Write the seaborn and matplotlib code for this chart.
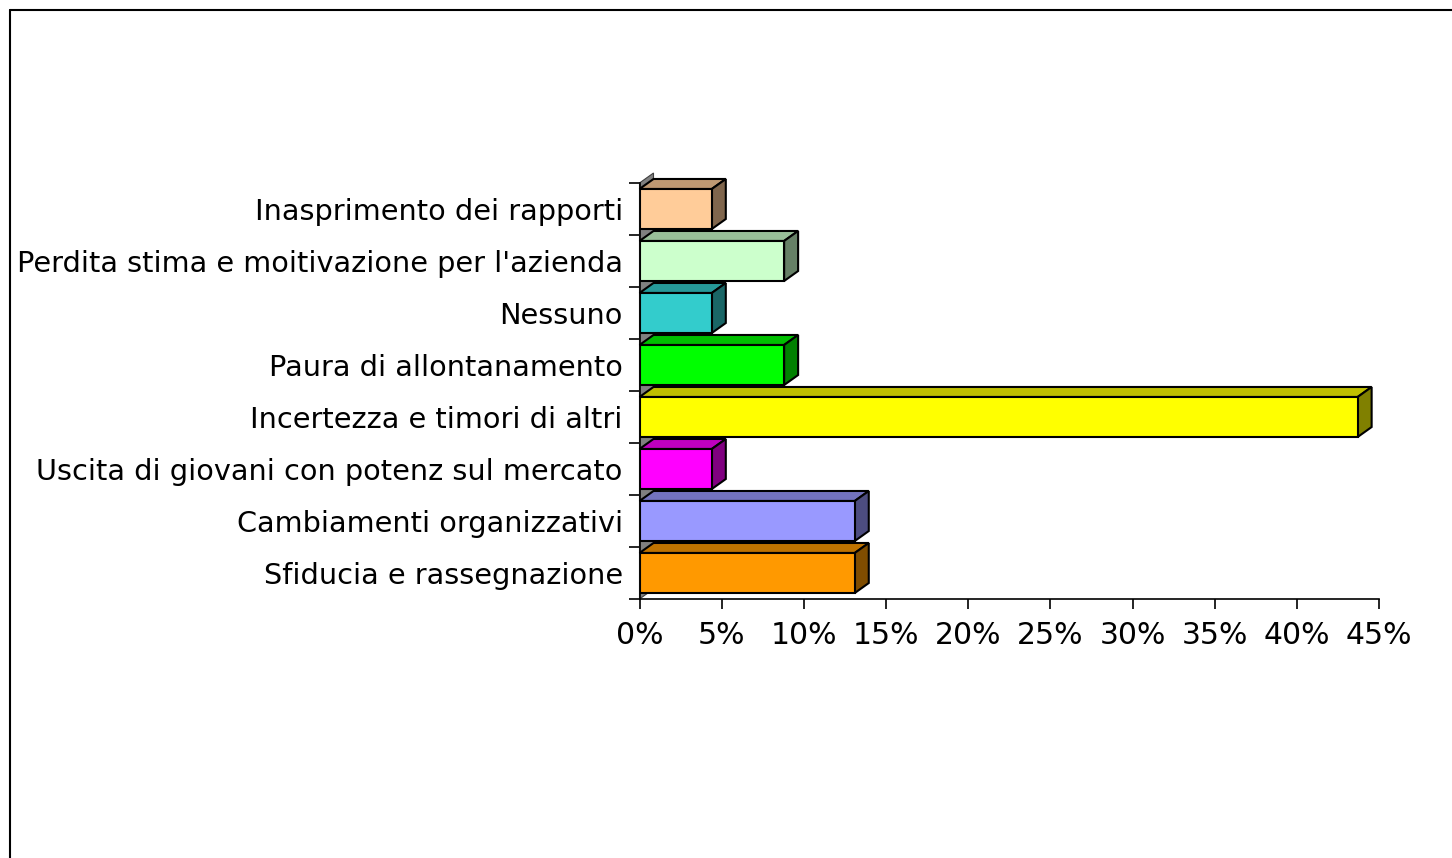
import numpy as np
import matplotlib
matplotlib.use("Agg")
import matplotlib.pyplot as plt
from matplotlib.patches import Polygon
from matplotlib.lines import Line2D
import seaborn as sns

# categories top -> bottom
categories = [
    "Inasprimento dei rapporti",
    "Perdita stima e moitivazione per l'azienda",
    "Nessuno",
    "Paura di allontanamento",
    "Incertezza e timori di altri",
    "Uscita di giovani con potenz sul mercato",
    "Cambiamenti organizzativi",
    "Sfiducia e rassegnazione",
]
values = [4.4, 8.8, 4.4, 8.8, 43.7, 4.4, 13.1, 13.1]
colors = ["#FFCC99", "#CCFFCC", "#33CCCC", "#00FF00",
          "#FFFF00", "#FF00FF", "#9999FF", "#FF9900"]
xticks = [0, 5, 10, 15, 20, 25, 30, 35, 40, 45]

W, H = 1452, 858
DEPTH_X, DEPTH_Y = 14, 10  # 3d offset in pixels

sns.set_theme(style="white")
plt.rcParams["font.family"] = ["DejaVu Sans"]
plt.rcParams["text.color"] = "black"
plt.rcParams["xtick.color"] = "black"
plt.rcParams["ytick.color"] = "black"

fig = plt.figure(figsize=(W / 100, H / 100), dpi=100)
ax = fig.add_axes([639.5 / W, (H - 599) / H, 739.5 / W, 416 / H])

sns.barplot(x=values, y=categories, hue=categories, palette=colors,
            orient="h", width=0.77, legend=False, ax=ax,
            edgecolor="black", linewidth=1.5, saturation=1, zorder=3)

ax.set_xlim(0, 45)
ax.set_ylim(7.5, -0.5)

# pixel -> data conversions
px_x = 45 / 739.5
px_y = 8 / 416
dx = DEPTH_X * px_x
dy = DEPTH_Y * px_y

def shade(c, f):
    r, g, b = matplotlib.colors.to_rgb(c)
    return (r * f, g * f, b * f)

bars = [b for cont in ax.containers for b in cont]
for bar, c in zip(bars, colors):
    x0, y0 = bar.get_x(), bar.get_y()
    w, h = bar.get_width(), bar.get_height()
    top_y = min(y0, y0 + h)
    bot_y = max(y0, y0 + h)
    top = Polygon([(x0, top_y), (x0 + dx, top_y - dy),
                   (x0 + w + dx, top_y - dy), (x0 + w, top_y)],
                  closed=True, facecolor=shade(c, 0.75), edgecolor="black",
                  linewidth=1.5, zorder=2, clip_on=False)
    side = Polygon([(x0 + w, top_y), (x0 + w + dx, top_y - dy),
                    (x0 + w + dx, bot_y - dy), (x0 + w, bot_y)],
                   closed=True, facecolor=shade(c, 0.5), edgecolor="black",
                   linewidth=1.5, zorder=2, clip_on=False)
    ax.add_patch(top)
    ax.add_patch(side)

# grey back wall on the left
wall = Polygon([(0, 7.5), (0, -0.5), (dx, -0.5 - dy), (dx, 7.5 - dy)],
               closed=True, facecolor="#808080", edgecolor="#404040",
               linewidth=0.8, zorder=1, clip_on=False)
ax.add_patch(wall)

for s in ["top", "right"]:
    ax.spines[s].set_visible(False)
for s in ["left", "bottom"]:
    ax.spines[s].set_color("black")
    ax.spines[s].set_linewidth(1.2)
    ax.spines[s].set_zorder(5)

ax.set_xticks(xticks)
ax.set_xticklabels([f"{t}%" for t in xticks])
ax.set_yticks(range(len(categories)))
ax.set_yticks(np.arange(-0.5, 8.0, 1.0), minor=True)
ax.tick_params(axis="x", which="major", length=7, width=1.2,
               direction="out", bottom=True, labelsize=21.5, pad=9)
ax.tick_params(axis="y", which="major", length=0, labelsize=20.7, pad=12)
ax.tick_params(axis="y", which="minor", length=8, width=1.2,
               direction="out", left=True)
ax.set_xlabel("")
ax.set_ylabel("")
ax.patch.set_alpha(0)

# outer frame
fig.add_artist(Line2D([10 / W, 10 / W], [0, 1 - 10 / H], transform=fig.transFigure,
                      color="black", linewidth=1.5))
fig.add_artist(Line2D([10 / W, 1], [1 - 10 / H, 1 - 10 / H], transform=fig.transFigure,
                      color="black", linewidth=1.5))

fig.savefig("out.png", dpi=100)
plt.close(fig)
